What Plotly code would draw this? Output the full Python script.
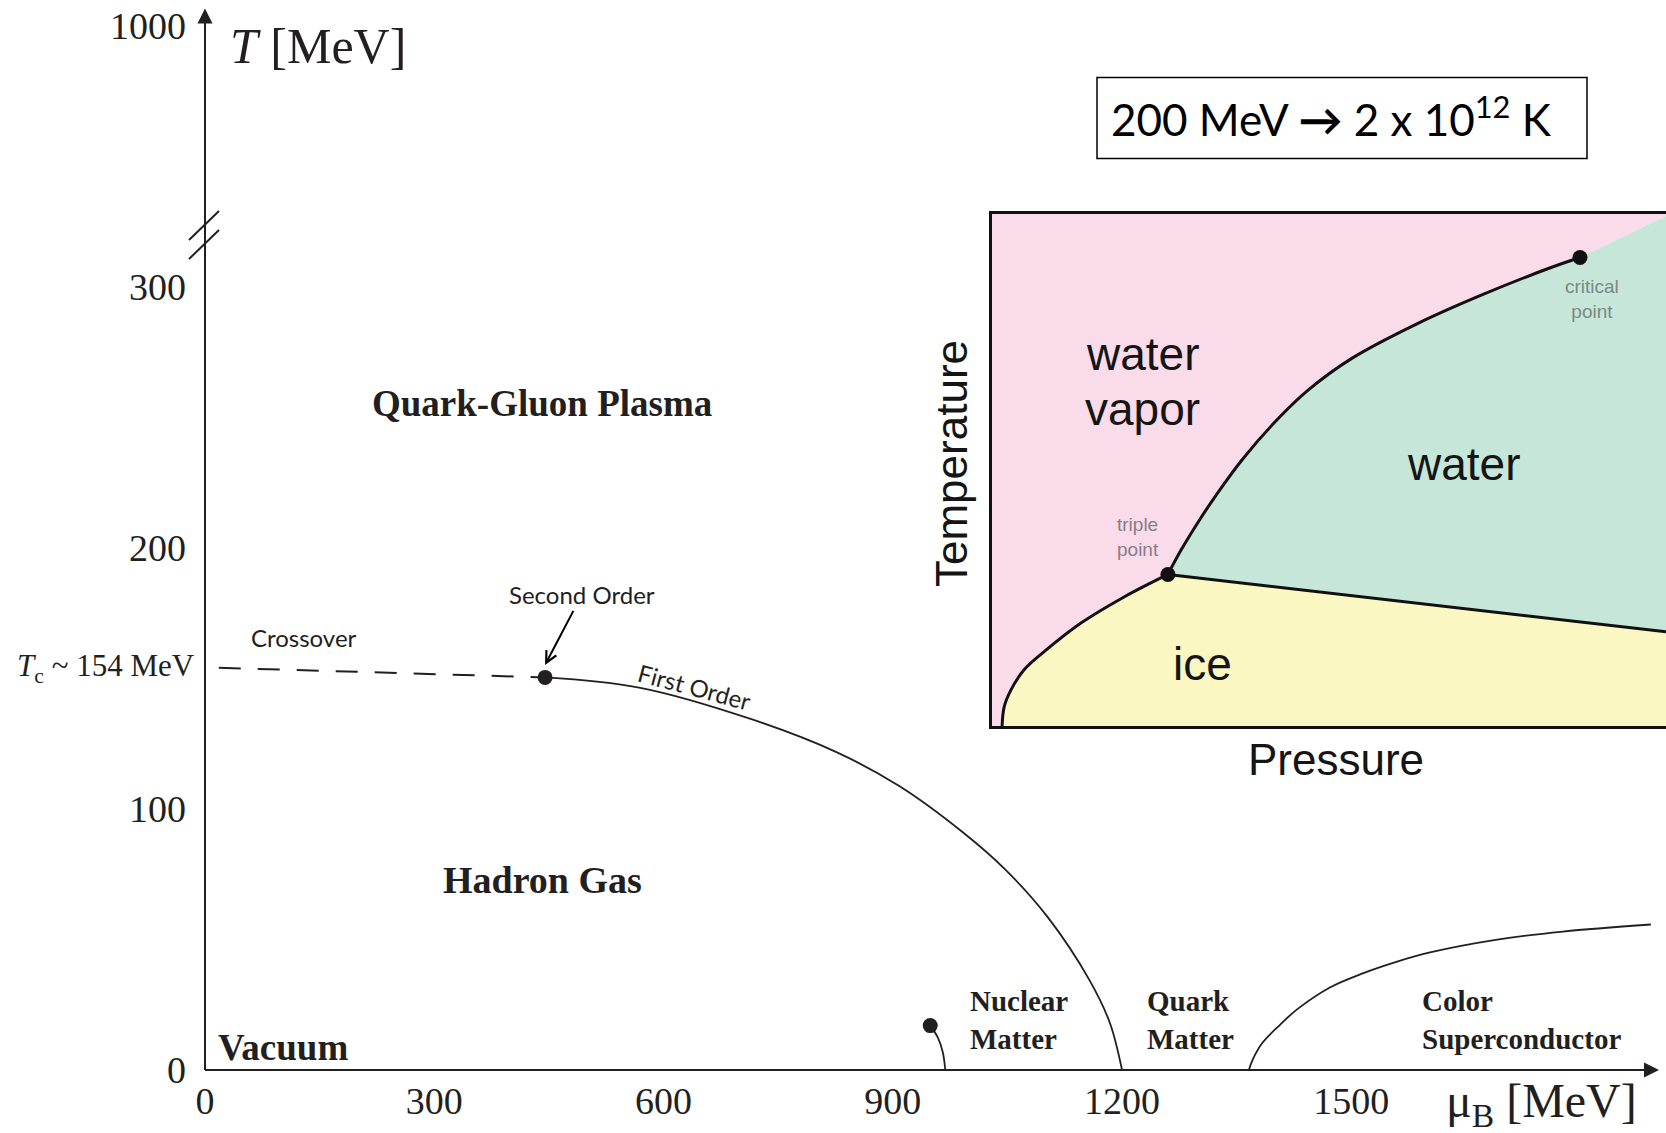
import plotly.graph_objects as go

# ---------------------------------------------------------------- data
# QCD phase diagram, baryon chemical potential mu_B [MeV] vs temperature T [MeV]
crossover_mu = [18, 445]
crossover_T = [154, 150.3]

first_order_mu = [445, 568, 716, 827, 909, 992, 1047, 1102, 1157, 1184, 1200]
first_order_T = [150.3, 146.4, 134.2, 121.6, 108.6, 90.9, 76.8, 58.8, 34.6, 18.1, 0]

nuclear_mu = [949, 959, 965.5, 968.7]
nuclear_T = [17.0, 12.4, 6.7, 0]

csc_mu = [1366, 1371, 1384, 1407, 1429, 1472, 1515, 1560, 1603, 1691, 1777, 1892]
csc_T = [0, 4.0, 10.5, 17.4, 23.2, 31.6, 37.0, 41.5, 45.0, 49.9, 53.0, 55.7]

critical_mu, critical_T = 445, 150.3
nuclear_pt_mu, nuclear_pt_T = 949, 17.0
Tc = 154

x_ticks = [0, 300, 600, 900, 1200, 1500]
y_ticks = [0, 100, 200, 300]
y_top_label = "1000"

# water phase diagram (schematic, arbitrary units 0-100)
lv_P = [26.1, 28.07, 30.67, 33.26, 37.17, 42.36, 46.9, 53.38, 63.12, 72.85, 82.64, 87.24]
lv_T = [29.6, 34.4, 40.0, 45.1, 52.1, 59.9, 65.6, 71.8, 78.6, 84.3, 89.4, 91.5]
sl_P = [26.1, 100]
sl_T = [29.6, 18.4]
sub_P = [26.1, 19.6, 13.2, 8.0, 4.7, 2.8, 1.8, 1.5]
sub_T = [29.6, 25.2, 20.1, 14.8, 10.9, 7.0, 3.7, 0]
supercrit_P, supercrit_T = 100, 99.6

# ---------------------------------------------------------------- geometry
W, H = 1666, 1133
L, B = 205, 63
PW, PH = W - L, H - B
X_PX = 0.7642   # px per MeV along mu_B
Y_PX = 2.612    # px per MeV along T
X_MAX = PW / X_PX
Y_MAX = PH / Y_PX
T_TOP_TICK = (PH - 25.5) / Y_PX   # where the compressed "1000" sits above the break
Y_TIP = (PH - 8.5) / Y_PX          # tip of the T axis arrow
X_TIP = (1659 - L) / X_PX          # tip of the mu_B axis arrow


def px(xp, yp):
    """pixel position on the page -> paper coordinates of the plot area"""
    return (xp - L) / PW, (PH - yp) / PH


INK = "#231f20"
SERIF = "Liberation Serif, Times New Roman, serif"
SANS = "Lato, Open Sans, sans-serif"
ARIAL = "Liberation Sans, Arial, sans-serif"
NARROW = "Liberation Sans Narrow, Liberation Sans, sans-serif"

fig = go.Figure()

# ---------------------------------------------------------------- QCD curves
fig.add_trace(go.Scatter(x=crossover_mu, y=crossover_T, mode="lines",
                         line=dict(color=INK, width=2, dash="22px,17px")))
fig.add_trace(go.Scatter(x=first_order_mu, y=first_order_T, mode="lines",
                         line=dict(color=INK, width=1.8, shape="spline", smoothing=1.0)))
fig.add_trace(go.Scatter(x=nuclear_mu, y=nuclear_T, mode="lines",
                         line=dict(color=INK, width=1.8, shape="spline", smoothing=1.0)))
fig.add_trace(go.Scatter(x=csc_mu, y=csc_T, mode="lines",
                         line=dict(color=INK, width=1.8, shape="spline", smoothing=1.0)))
fig.add_trace(go.Scatter(x=[critical_mu, nuclear_pt_mu], y=[critical_T, nuclear_pt_T],
                         mode="markers", cliponaxis=False,
                         marker=dict(color=INK, size=15)))

# axis arrowheads (tips sit on the marker position)
fig.add_trace(go.Scatter(x=[0, X_TIP], y=[Y_TIP, 0], mode="markers", cliponaxis=False,
                         marker=dict(color=INK, size=15, symbol=["arrow-up", "arrow-right"])))

# ---------------------------------------------------------------- water inset
crit_P, crit_T = lv_P[-1], lv_T[-1]
vapor_poly_P = [0, 100, supercrit_P] + lv_P[::-1] + sub_P[1:] + [0]
vapor_poly_T = [100, 100, supercrit_T] + lv_T[::-1] + sub_T[1:] + [0]
water_poly_P = [supercrit_P] + lv_P[::-1] + sl_P[1:]
water_poly_T = [supercrit_T] + lv_T[::-1] + sl_T[1:]
ice_poly_P = sub_P + [100, sl_P[-1]]
ice_poly_T = sub_T + [0, sl_T[-1]]

for pp, tt, col in [(vapor_poly_P, vapor_poly_T, "#f9dbea"),
                    (water_poly_P, water_poly_T, "#c6e6da"),
                    (ice_poly_P, ice_poly_T, "#faf7c3")]:
    fig.add_trace(go.Scatter(x=pp, y=tt, mode="lines", fill="toself", fillcolor=col,
                             line=dict(width=0), xaxis="x2", yaxis="y2"))

for pp, tt in [(lv_P, lv_T), (sl_P, sl_T), (sub_P, sub_T)]:
    fig.add_trace(go.Scatter(x=pp, y=tt, mode="lines", xaxis="x2", yaxis="y2",
                             line=dict(color="#111111", width=3, shape="spline", smoothing=1.0)))
fig.add_trace(go.Scatter(x=[lv_P[0], crit_P], y=[lv_T[0], crit_T], mode="markers",
                         xaxis="x2", yaxis="y2", cliponaxis=False,
                         marker=dict(color="#111111", size=15)))

# ---------------------------------------------------------------- annotations
ann = []


def text(x, y, s, size, family=SERIF, color=INK, ref="data", **kw):
    d = dict(x=x, y=y, text=s, showarrow=False, xanchor="center", yanchor="middle",
             font=dict(family=family, size=size, color=color))
    if ref == "paper":
        d.update(xref="paper", yref="paper")
    elif ref == "inset":
        d.update(xref="x2", yref="y2")
    else:
        d.update(xref="x", yref="y")
    d.update(kw)
    ann.append(d)


# axis titles
x0, y0 = px(228, 46)
text(x0, y0, "<i>T</i> [MeV]", 50, ref="paper", xanchor="left")
x0, y0 = px(1541, 1104)
text(x0, y0, "μ<sub>B</sub> [MeV]", 48, ref="paper")
text(0, Tc, "<i>T</i><sub>c</sub> ~ 154 MeV", 31, xanchor="right", xshift=-8)

# region labels
text(441, 255, "<b>Quark-Gluon Plasma</b>", 37)
text(441, 72.7, "<b>Hadron Gas</b>", 38)
text(14.4, 8.8, "<b>Vacuum</b>", 37, xanchor="left")
text(998, 19.1, "<b>Nuclear<br>Matter</b>", 29, xanchor="left", align="left")
text(1230, 19.1, "<b>Quark<br>Matter</b>", 29, xanchor="left", align="left")
text(1590, 19.1, "<b>Color<br>Superconductor</b>", 29, xanchor="left", align="left")

# transition labels
text(129.5, 165.5, "Crossover", 24, family=SANS)
text(640, 147, "First Order", 24, family=SANS, textangle=15)
# "Second Order" with its arrow pointing at the critical end point
ann.append(dict(x=445, y=155.1, ax=493, ay=181.9, xref="x", yref="y", axref="x", ayref="y",
                text="Second Order", showarrow=True, arrowhead=5, arrowsize=1.1,
                arrowwidth=2, arrowcolor="#000000",
                font=dict(family=SANS, size=24, color=INK)))

# conversion box
x0, y0 = px(1331, 117)
text(x0, y0, "200 MeV <b>→</b> 2 x 10<sup>12</sup> K", 44, family=SANS, color="#000000",
     ref="paper")

# inset labels
text(22.3, 72.7, "water", 46, family=ARIAL, color="#151515", ref="inset")
text(22.3, 61.9, "vapor", 46, family=ARIAL, color="#151515", ref="inset")
text(70.0, 51.2, "water", 46, family=ARIAL, color="#151515", ref="inset")
text(31.2, 12.1, "ice", 46, family=ARIAL, color="#151515", ref="inset")
text(21.7, 36.9, "triple<br>point", 19, family=NARROW, color="#8a7d87", ref="inset")
text(89.0, 83.4, "critical<br>point", 19, family=NARROW, color="#7b8984", ref="inset")
x0, y0 = px(951, 464)
text(x0, y0, "Temperature", 44, family=ARIAL, color="#151515", ref="paper", textangle=-90)
x0, y0 = px(1336, 759)
text(x0, y0, "Pressure", 44, family=ARIAL, color="#151515", ref="paper")

# ---------------------------------------------------------------- shapes
shapes = []


def seg(a, b, c, d, width=2, color=INK):
    p0, q0 = px(a, b)
    p1, q1 = px(c, d)
    shapes.append(dict(type="line", xref="paper", yref="paper", x0=p0, y0=q0, x1=p1, y1=q1,
                       line=dict(color=color, width=width)))


# axis lines
seg(L, PH, L, 20)
seg(L, PH, 1648, PH)
# axis break marks
seg(189, 240, 219, 211)
seg(189, 259, 219, 230)
# conversion box frame
bx0, by0 = px(1097, 77.5)
bx1, by1 = px(1587, 158.5)
shapes.append(dict(type="rect", xref="paper", yref="paper", x0=bx0, y0=by0, x1=bx1, y1=by1,
                   line=dict(color="#000000", width=1.5)))

# ---------------------------------------------------------------- layout
inset_x0, _ = px(992, 0)
_, inset_y0 = px(0, 726)
_, inset_y1 = px(0, 214)

fig.update_layout(
    width=W, height=H,
    margin=dict(l=L, r=0, t=0, b=B, pad=0),
    paper_bgcolor="white", plot_bgcolor="white",
    showlegend=False,
    xaxis=dict(range=[0, X_MAX], domain=[0, 1], showgrid=False, zeroline=False, showline=False,
               tickmode="array", tickvals=x_ticks, ticktext=[str(v) for v in x_ticks],
               ticks="", ticklabelstandoff=5,
               tickfont=dict(family=SERIF, size=38, color=INK)),
    yaxis=dict(range=[0, Y_MAX], domain=[0, 1], showgrid=False, zeroline=False, showline=False,
               tickmode="array", tickvals=y_ticks + [T_TOP_TICK],
               ticktext=[str(v) for v in y_ticks] + [y_top_label],
               ticks="", ticklabelstandoff=18,
               tickfont=dict(family=SERIF, size=38, color=INK)),
    xaxis2=dict(range=[0, 100], domain=[inset_x0, 1], anchor="y2", showgrid=False,
                zeroline=False, showline=True, mirror=True, linewidth=3, linecolor="#111111",
                showticklabels=False, ticks=""),
    yaxis2=dict(range=[0, 100], domain=[inset_y0, inset_y1], anchor="x2", showgrid=False,
                zeroline=False, showline=True, mirror=False, linewidth=3, linecolor="#111111",
                showticklabels=False, ticks=""),
    annotations=ann,
    shapes=shapes,
)

fig.write_html("out.html")
